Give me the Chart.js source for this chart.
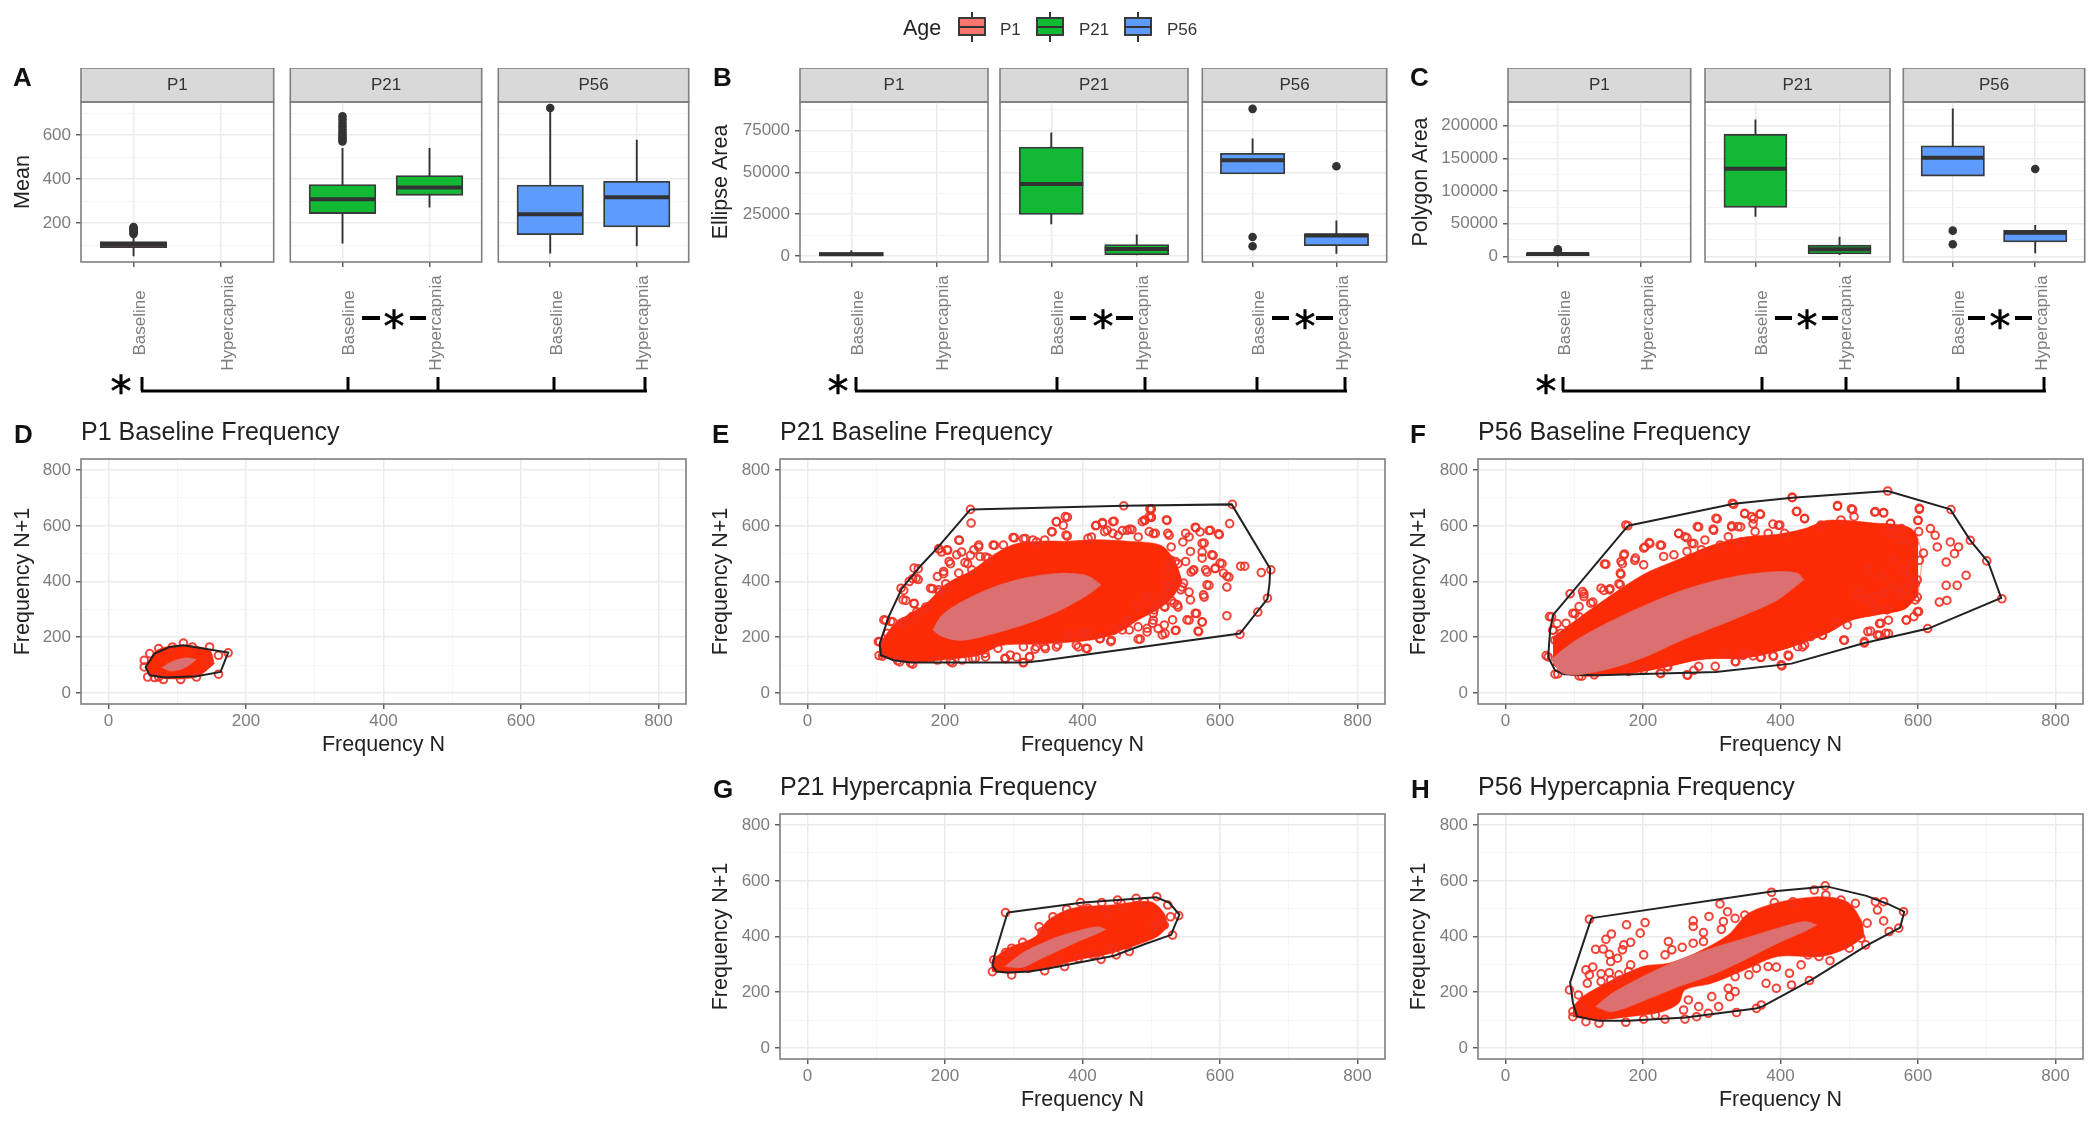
<!DOCTYPE html>
<html>
<head>
<meta charset="utf-8">
<title>Frequency panels</title>
<script src="https://cdn.jsdelivr.net/npm/chart.js@4"></script>
<style>
  html, body { margin: 0; padding: 0; background: #fff; overflow: hidden; width: 2100px; height: 1125px; }
  #fig { position: absolute; left: 0; top: 0; width: 2100px; height: 1125px; filter: blur(0.4px); }
  #fig canvas { position: absolute; }
  .txt { position: absolute; font-family: "Liberation Sans", sans-serif; white-space: nowrap; color: #222; }
  .lab { font-weight: bold; color: #111; }
  #marks { position: absolute; left: 0; top: 0; filter: blur(0.4px); }
</style>
</head>
<body>
<div id="fig"></div>
<svg id="marks" width="2100" height="1125"></svg>
<script>
// ========================
// Data: boxplots (order: P1 Baseline, P21 Baseline, P21 Hypercapnia, P56 Baseline, P56 Hypercapnia)
// ========================
const ages = ["P1", "P21", "P56"];
const ageColors = ["#F8766D", "#12B934", "#5E9BFF"];
const conditions = ["Baseline", "Hypercapnia"];
const boxAge = [0, 1, 1, 2, 2];
const boxCond = [1, 1, 2, 1, 2];

const meanQ1 = [88, 243, 326, 147, 182];
const meanMed = [103, 308, 361, 240, 317];
const meanQ3 = [116, 375, 416, 373, 390];
const meanLo = [49, 107, 271, 62, 95];
const meanHi = [145, 541, 541, 723, 579];
const meanOut = [[150, 157, 164, 170, 176, 182], [571, 580, 590, 600, 612, 625, 640, 655, 670, 685], [], [723], []];
const meanTicks = [200, 400, 600];
const meanMinor = [100, 300, 500, 700];

const ellQ1 = [200, 24900, 800, 49100, 6200];
const ellMed = [1000, 43100, 4200, 57300, 12200];
const ellQ3 = [2000, 65200, 6800, 61400, 13400];
const ellLo = [0, 19000, 400, 49100, 1400];
const ellHi = [3400, 73800, 12800, 70200, 21300];
const ellOut = [[], [], [], [88000, 11400, 5800], [53700]];
const ellTicks = [0, 25000, 50000, 75000];
const ellMinor = [12500, 37500, 62500, 87500];

const polyQ1 = [1000, 75000, 3600, 122900, 21900];
const polyMed = [3600, 134000, 10700, 151000, 36200];
const polyQ3 = [5500, 187000, 17300, 169300, 39800];
const polyLo = [0, 60700, 2000, 122900, 4600];
const polyHi = [7000, 209600, 30000, 226400, 48000];
const polyOut = [[10700, 9000], [], [], [39300, 18400], [133600]];
const polyTicks = [0, 50000, 100000, 150000, 200000];
const polyMinor = [25000, 75000, 125000, 175000, 225000];

// ========================
// Data: frequency panels
// ========================
const freqTicks = [0, 200, 400, 600, 800];
const freqMinor = [100, 300, 500, 700];

const hullD = [[89,165],[109,171],[174,145],[163,75],[128,60],[83,55],[60,63],[54,93],[67,141],[89,165]];
const ellUpD = [[78,91],[89,109],[102,121],[115,126],[128,120]];
const ellLoD = [[78,91],[89,79],[102,82],[115,96],[128,120]];
const coreUpD = [[54,87],[70,153],[109,171],[147,153],[154,105]];
const coreLoD = [[54,87],[60,66],[83,51],[128,57],[154,105]];
const ringsD = [[52,93],[57,57],[67,55],[80,48],[105,48],[128,57],[160,67],[174,144],[160,135],[144,111],[109,179],[93,165],[73,159],[60,141],[52,117],[147,165],[122,165],[73,57]];

const hullE = [[237,659],[460,672],[617,677],[673,446],[672,392],[669,338],[629,213],[340,115],[317,109],[151,109],[125,117],[107,135],[105,177],[118,273],[137,374],[163,452],[188,518],[237,659]];
const ellUpE = [[182,226],[196,280],[225,328],[273,382],[321,415],[369,430],[408,420],[427,388]];
const ellLoE = [[182,226],[196,202],[225,188],[273,214],[321,250],[369,298],[408,352],[427,388]];
const coreUpE = [[104,175],[128,250],[172,320],[201,390],[239,440],[273,500],[302,535],[340,545],[379,545],[417,550],[465,545],[514,530],[535,470],[545,400]];
const coreLoE = [[104,130],[152,108],[196,118],[249,135],[282,170],[331,175],[369,180],[413,190],[451,215],[480,260],[510,300],[530,340],[545,400]];
const ringsE = [[237,659],[238,610],[460,672],[500,660],[500,630],[490,620],[618,677],[614,608],[630,455],[636,455],[660,432],[674,442],[669,340],[655,290],[610,277],[629,210],
  [378,631],[362,614],[372,602],[356,578],[301,557],[317,554],[333,542],[378,563],[420,602],[429,608],[446,616],[436,584],[465,584],[472,586],[491,620],[500,631],[500,661],[523,620],[526,566],[546,542],[555,560],[565,593],[571,578],[586,584],[599,568],[577,538],[574,506],[590,494],[561,440],[581,434],[603,464],[593,446],[610,419],[613,416],[610,380],[577,344],[584,386],[566,285],[574,255],[555,261],[536,225],[568,222],[539,308],[520,308],[520,213],[510,231],[484,193],[494,219],[442,189],[426,195],[407,213],[394,165],[407,159],[362,165],[346,159],[333,165],[323,129],[314,108],[304,129],[288,123],[259,129],[240,123],[211,108],[153,103],[134,111],[109,132],[105,183],[114,261],[124,255],[140,255],[143,332],[140,368],[153,410],[161,407],[161,446],[195,506],[191,518],[221,548],[204,512],[224,506],[237,494],[249,524],[259,488],[272,530],[233,464],[208,464],[198,428],[201,392],[182,374],[192,362],[155,320],[172,308],[159,291],
  [529,476],[539,464],[536,416],[526,380],[516,344],[503,285],[503,261],[529,332],[558,434],[545,380],[555,362],[465,261],[446,225],[481,237],[413,560],[452,566],[481,560],[503,572],[529,524],
  [299,558],[314,553],[328,549],[345,549],[355,579],[362,615],[375,633],[376,567],[408,555],[419,600],[429,612],[444,615],[432,579],[444,573],[458,583],[469,588],[487,615],[497,633],[498,660],[522,621],[497,579],[506,573],[524,573],[550,573],[564,595],[584,583],[598,571],[574,537],[557,508],[574,484],[588,496],[600,466],[579,442],[593,448],[605,430],[562,442],[550,472],[535,472],[521,442],[581,388],[576,352],[557,334],[538,316],[519,310],[506,316],[564,286],[552,262],[574,254],[569,220],[535,224],[531,262],[516,208],[519,244],[494,232],[481,193],[468,226],[441,184],[425,194],[405,160],[391,172],[364,172],[345,166],[331,157],[314,166],[323,130],[314,109],[295,136],[287,124],[277,160],[258,142],[244,124],[225,118],[208,112],[189,118],[150,107],[131,116],[104,134],[103,184],[111,262],[121,256],[116,214],[136,250],[152,274],[155,322],[139,334],[136,376],[148,400],[158,412],[155,448],[189,418],[179,376],[191,370],[205,376],[198,436],[220,430],[206,472],[229,468],[217,496],[203,514],[220,549],[191,516],[242,514],[249,531],[270,531],[285,531],[263,484],[251,490],[239,442],[480,310],[494,346],[504,298],[502,250],[533,322],[543,370],[547,394],[523,388],[466,256],[458,226],[398,214],[379,208]];

const hullF = [[178,600],[332,679],[417,701],[556,725],[647,659],[676,548],[702,470],[721,341],[615,231],[522,179],[416,105],[306,75],[133,63],[85,67],[72,81],[62,129],[65,225],[69,279],[178,600]];
const ellUpF = [[66,119],[83,154],[107,196],[155,260],[204,316],[252,364],[300,400],[348,424],[396,436],[425,430],[434,406]];
const ellLoF = [[66,119],[83,71],[107,65],[155,89],[204,130],[252,184],[300,232],[348,280],[396,334],[425,388],[434,406]];
const coreUpF = [[69,200],[107,270],[165,370],[204,430],[252,480],[300,530],[348,560],[396,570],[435,590],[469,620],[536,610],[590,590],[605,500],[600,350]];
const coreLoF = [[69,100],[98,62],[180,70],[237,95],[285,120],[343,125],[372,135],[416,165],[469,215],[502,260],[540,280],[580,300],[600,350]];
const ringsF = [[178,600],[332,677],[417,701],[556,725],[648,658],[676,548],[700,474],[722,338],[614,231],[522,179],[402,97],[265,63],[226,69],[111,60],[72,67],[62,129],[67,273],[69,225],[146,462],[172,494],[170,464],[168,426],[210,536],[227,530],[203,524],[252,572],[281,596],[308,625],[303,584],[264,557],[274,536],[348,643],[371,641],[361,625],[329,596],[342,596],[397,602],[424,652],[435,625],[483,670],[505,658],[537,649],[550,646],[602,659],[600,620],[560,608],[576,590],[618,590],[625,566],[647,542],[659,524],[653,500],[628,524],[641,470],[670,422],[641,386],[657,386],[631,326],[642,332],[599,291],[583,261],[599,344],[596,392],[602,476],[573,356],[557,261],[544,249],[557,213],[544,207],[531,222],[493,189],[461,207],[432,165],[412,132],[390,132],[371,127],[345,135],[335,111],[274,81],[236,93],[114,356],[94,356],[143,368],[152,374],[75,249],[101,285],[72,189],[188,476],[165,392],[127,326],[107,273],
  [175,603],[330,681],[417,703],[483,673],[503,661],[423,651],[348,645],[358,633],[370,643],[306,627],[279,597],[252,573],[329,600],[338,597],[360,607],[389,606],[399,603],[302,588],[363,579],[261,561],[271,537],[290,549],[225,531],[209,540],[201,520],[173,499],[144,463],[168,472],[167,430],[189,484],[201,460],[230,490],[245,496],[264,508],[285,514],[312,531],[324,561],[343,543],[382,573],[406,573],[435,627],[459,603],[488,621],[507,633],[538,651],[550,648],[560,609],[602,663],[600,619],[601,579],[594,537],[608,502],[591,472],[579,442],[599,406],[582,370],[596,334],[601,292],[594,274],[583,262],[555,298],[538,304],[546,250],[553,214],[541,208],[527,220],[522,184],[492,190],[497,244],[481,250],[461,208],[444,202],[435,172],[425,166],[411,136],[401,101],[389,133],[372,128],[360,133],[334,113],[346,136],[319,142],[305,95],[281,95],[264,65],[235,95],[225,71],[201,83],[179,77],[129,65],[107,61],[76,68],[59,134],[64,274],[69,226],[98,286],[112,364],[114,346],[139,376],[151,370],[167,388],[81,214],[88,250],[107,310],[124,322],[536,346],[550,358],[565,382],[522,334],[526,442],[512,358],[565,478],[577,549],[560,573],[589,418],[546,418]];

const hullG = [[291,486],[401,522],[507,541],[526,522],[541,478],[534,438],[529,406],[491,373],[446,331],[346,283],[323,274],[291,271],[275,274],[269,295],[272,331],[291,486]];
const ellUpG = [[287,292],[312,340],[336,370],[365,400],[394,421],[422,435],[434,426]];
const ellLoG = [[287,292],[312,289],[336,316],[365,349],[394,382],[422,411],[434,426]];
const coreUpG = [[268,316],[292,358],[331,399],[350,459],[384,501],[442,513],[499,525],[519,483],[524,435]];
const coreLoG = [[268,274],[297,268],[345,286],[394,316],[442,340],[480,370],[509,400],[524,435]];
const ringsG = [[288,486],[313,379],[297,358],[288,342],[337,435],[357,471],[377,498],[397,522],[428,522],[451,531],[478,537],[508,543],[524,513],[540,475],[531,405],[512,471],[519,441],[504,435],[528,471],[271,316],[269,274],[297,262],[345,277],[374,292],[394,322],[427,318],[449,334],[468,346],[442,358],[415,334],[365,306],[321,286],[408,501],[434,489],[456,519],[490,525],[341,417]];

const hullH = [[125,466],[387,562],[467,580],[525,546],[557,516],[580,489],[574,432],[525,367],[445,244],[374,149],[364,141],[262,109],[178,97],[136,97],[104,113],[98,163],[94,235],[125,466]];
const ellUpH = [[131,148],[155,196],[204,262],[252,316],[300,358],[348,394],[396,430],[435,454],[453,442]];
const ellLoH = [[131,148],[155,130],[204,172],[252,220],[300,262],[348,316],[396,376],[435,418],[453,442]];
const coreUpH = [[98,148],[112,184],[146,232],[199,292],[237,304],[276,340],[324,406],[353,483],[401,525],[459,543],[497,525],[517,460],[522,400]];
const coreLoH = [[98,112],[131,100],[180,112],[228,130],[252,160],[261,208],[300,232],[348,280],[396,328],[459,328],[497,358],[522,400]];
const ringsH = [[122,462],[387,559],[465,582],[449,567],[312,517],[323,489],[296,472],[273,456],[273,436],[317,454],[314,426],[288,414],[203,450],[176,442],[196,412],[154,409],[146,390],[182,379],[172,370],[170,352],[131,354],[142,355],[237,382],[242,352],[257,361],[273,376],[288,382],[232,334],[201,334],[151,336],[163,322],[153,310],[182,298],[127,290],[117,280],[122,262],[139,266],[151,270],[165,262],[167,244],[153,244],[139,238],[179,274],[93,208],[106,190],[119,232],[326,184],[334,202],[324,214],[310,148],[336,127],[295,124],[281,148],[266,172],[259,136],[300,184],[394,214],[379,232],[416,226],[442,242],[413,268],[430,298],[394,290],[382,292],[354,262],[334,256],[365,286],[365,142],[372,154],[472,313],[456,328],[440,334],[500,358],[524,370],[558,418],[572,430],[550,456],[541,495],[538,525],[550,525],[579,489],[526,448],[509,519],[488,531],[466,549],[418,525],[391,522],[348,477],[334,465],[517,394],[98,112],[117,94],[136,88],[175,92],[201,103],[232,103],[261,103],[278,112],[98,130],[110,142],[218,118]];

// ========================
// Layout helpers
// ========================
const FONT = '"Liberation Sans", sans-serif';
const TICK_COLOR = "#7d7d7d";
const fig = document.getElementById("fig");

Chart.defaults.font.family = FONT;
Chart.defaults.animation = false;
Chart.defaults.responsive = false;
Chart.defaults.plugins.legend.display = false;
Chart.defaults.plugins.tooltip.enabled = false;

const panelFrame = {
  id: "panelFrame",
  beforeDraw(chart, args, opts) {
    if (!opts.strip) return;
    const a = chart.chartArea, ctx = chart.ctx;
    ctx.save();
    ctx.fillStyle = "#d9d9d9";
    ctx.strokeStyle = "#7f7f7f";
    ctx.lineWidth = 1.6;
    ctx.fillRect(a.left, a.top - opts.strip, a.right - a.left, opts.strip);
    ctx.strokeRect(a.left, a.top - opts.strip, a.right - a.left, opts.strip);
    ctx.restore();
  },
  afterDraw(chart, args, opts) {
    const a = chart.chartArea, ctx = chart.ctx;
    ctx.save();
    ctx.strokeStyle = "#7f7f7f";
    ctx.lineWidth = 1.6;
    ctx.strokeRect(a.left, a.top, a.right - a.left, a.bottom - a.top);
    if (opts.condLabels) {
      ctx.fillStyle = TICK_COLOR;
      ctx.font = "17px " + FONT;
      ctx.textAlign = "center";
      ctx.textBaseline = "middle";
      opts.condLabels.forEach((txt, i) => {
        ctx.save();
        ctx.translate(chart.scales.x.getPixelForValue(i + 1) + 7, a.bottom + opts.condOffset);
        ctx.rotate(-Math.PI / 2);
        ctx.fillText(txt, 0, 0);
        ctx.restore();
      });
    }
    ctx.restore();
  }
};

// plot rectangle and margins are in page pixels
function addChart(plot, ml, mt, mb, config) {
  const mr = 2;
  const c = document.createElement("canvas");
  c.width = ml + (plot.x1 - plot.x0) + mr;
  c.height = mt + (plot.y1 - plot.y0) + mb;
  c.style.left = (plot.x0 - ml) + "px";
  c.style.top = (plot.y0 - mt) + "px";
  fig.appendChild(c);
  config.options.layout = { padding: { right: mr } };
  config.options.scales.x.afterFit = s => { s.height = mb; };
  config.options.scales.y.afterFit = s => { s.width = ml; };
  config.plugins = [panelFrame];
  return new Chart(c, config);
}

function tickList(major, minor) {
  return major.map(v => ({ value: v, major: true }))
    .concat(minor.map(v => ({ value: v, major: false })))
    .sort((a, b) => a.value - b.value);
}

function gridOpts(tickLength, drawTicks) {
  return {
    offset: false,
    color: ctx => (ctx.tick && ctx.tick.major ? "#ebebeb" : "#f3f3f3"),
    lineWidth: ctx => (ctx.tick && ctx.tick.major ? 1.5 : 0.9),
    drawTicks: drawTicks,
    tickLength: tickLength,
    tickWidth: 1.4,
    tickColor: ctx => (ctx.tick && ctx.tick.major ? "#555" : "rgba(0,0,0,0)")
  };
}

function yScale(min, max, major, minor, title) {
  return {
    type: "linear", min: min, max: max,
    afterBuildTicks: s => { s.ticks = tickList(major, minor); },
    border: { display: false },
    grid: gridOpts(5, !!title),
    ticks: {
      display: !!title, autoSkip: false, padding: 5, color: TICK_COLOR, font: { size: 17 },
      callback: v => (major.includes(v) ? String(v) : "")
    },
    title: { display: !!title, text: title || "", color: "#222", font: { size: 21.5 }, padding: 0 }
  };
}

// ========================
// Boxplots
// ========================
function boxPanel(plot, ml, age, q1, med, q3, lo, hi, outs, yMin, yMax, major, minor, yTitle) {
  const whisk = [], meds = [], boxes = [], pts = [];
  boxAge.forEach((a, i) => {
    if (a !== age) return;
    const x = boxCond[i];
    boxes.push({ x: x, y: [q1[i], q3[i]] });
    whisk.push({ x: x, y: lo[i] }, { x: x, y: hi[i] }, { x: x, y: null });
    meds.push({ x: x - 0.375, y: med[i] }, { x: x + 0.375, y: med[i] }, { x: x, y: null });
    outs[i].forEach(v => pts.push({ x: x, y: v }));
  });
  const unit = (plot.x1 - plot.x0) / 2.2;
  const stripH = 34;
  addChart(plot, ml, stripH, 115, {
    type: "scatter",
    data: {
      datasets: [
        { type: "line", data: whisk, borderColor: "#333", borderWidth: 1.9, pointRadius: 0, order: 4 },
        { type: "bar", data: boxes, backgroundColor: ageColors[age], borderColor: "#3a3a3a", borderWidth: 1.8,
          borderSkipped: false, barThickness: unit * 0.75, grouped: false, order: 3 },
        { type: "line", data: meds, borderColor: "#333", borderWidth: 4, pointRadius: 0, order: 2 },
        { type: "scatter", data: pts, pointRadius: 4.3, backgroundColor: "#333", borderWidth: 0, order: 1 }
      ]
    },
    options: {
      scales: {
        x: {
          type: "linear", min: 0.4, max: 2.6, offset: false,
          afterBuildTicks: s => { s.ticks = [{ value: 1, major: true }, { value: 2, major: true }]; },
          border: { display: false },
          grid: gridOpts(5, true),
          ticks: { display: false }
        },
        y: yScale(yMin, yMax, major, minor, yTitle)
      },
      plugins: {
        title: {
          display: true, text: ages[age], fullSize: false, color: "#333",
          font: { size: 17, weight: "normal", lineHeight: 1.2 },
          padding: { top: 6.8, bottom: 6.8 }
        },
        panelFrame: { strip: stripH, condLabels: conditions, condOffset: 61 }
      }
    }
  });
}

const boxRows = [
  { cols: [[81, 276], [288, 484], [496, 691]], ml: 71, q1: meanQ1, med: meanMed, q3: meanQ3, lo: meanLo, hi: meanHi, outs: meanOut, min: 23, max: 750, major: meanTicks, minor: meanMinor, title: "Mean" },
  { cols: [[800, 988], [1000, 1188], [1200, 1389]], ml: 92, q1: ellQ1, med: ellMed, q3: ellQ3, lo: ellLo, hi: ellHi, outs: ellOut, min: -3590, max: 92100, major: ellTicks, minor: ellMinor, title: "Ellipse Area" },
  { cols: [[1508, 1693], [1705, 1890], [1901, 2087]], ml: 100, q1: polyQ1, med: polyMed, q3: polyQ3, lo: polyLo, hi: polyHi, outs: polyOut, min: -8730, max: 236300, major: polyTicks, minor: polyMinor, title: "Polygon Area" }
];
boxRows.forEach(r => {
  r.cols.forEach((c, age) => {
    boxPanel({ x0: c[0], x1: c[1], y0: 102, y1: 262 }, age === 0 ? r.ml : 2, age, r.q1, r.med, r.q3, r.lo, r.hi, r.outs,
      r.min, r.max, r.major, r.minor, age === 0 ? r.title : null);
  });
});

// ========================
// Frequency panels
// ========================
const toPts = list => list.map(p => ({ x: p[0], y: p[1] }));

function freqPanel(plot, ml, title, hull, ellUp, ellLo, coreUp, coreLo, rings) {
  const axisX = {
    type: "linear", min: -40, max: 840,
    afterBuildTicks: s => { s.ticks = tickList(freqTicks, freqMinor); },
    border: { display: false },
    grid: gridOpts(5, true),
    ticks: { autoSkip: false, maxRotation: 0, minRotation: 0, padding: 2, color: TICK_COLOR, font: { size: 17 },
      callback: v => (freqTicks.includes(v) ? String(v) : "") },
    title: { display: true, text: "Frequency N", color: "#222", font: { size: 21.5 }, padding: 0 }
  };
  const fillLine = (data, color, order, fill) => ({
    type: "line", data: toPts(data), backgroundColor: color, borderColor: color, borderWidth: 0.5,
    pointRadius: 0, tension: 0.3, fill: fill, order: order
  });
  addChart(plot, ml, 41, 54, {
    type: "scatter",
    data: {
      datasets: [
        fillLine(coreUp, "#fb2b05", 4, "+1"),
        fillLine(coreLo, "#fb2b05", 4, false),
        { type: "scatter", data: toPts(rings), pointRadius: 3.8, backgroundColor: "rgba(0,0,0,0)",
          borderColor: "rgba(240,48,34,0.9)", borderWidth: 2, order: 3 },
        { type: "line", data: toPts(hull), borderColor: "#222", borderWidth: 2, pointRadius: 0, fill: false, order: 2 },
        fillLine(ellUp, "#dc6f70", 1, "+1"),
        fillLine(ellLo, "#dc6f70", 1, false)
      ]
    },
    options: {
      scales: { x: axisX, y: yScale(-40, 840, freqTicks, freqMinor, "Frequency N+1") },
      plugins: {
        title: {
          display: true, text: title, fullSize: false, align: "start", color: "#222",
          font: { size: 25, weight: "normal", lineHeight: 1.2 },
          padding: { top: 0, bottom: 11 }
        },
        panelFrame: {}
      }
    }
  });
}

freqPanel({ x0: 81, x1: 690, y0: 459, y1: 704 }, 71, "P1 Baseline Frequency", hullD, ellUpD, ellLoD, coreUpD, coreLoD, ringsD);
freqPanel({ x0: 780, x1: 1389, y0: 459, y1: 704 }, 72, "P21 Baseline Frequency", hullE, ellUpE, ellLoE, coreUpE, coreLoE, ringsE);
freqPanel({ x0: 1478, x1: 2087, y0: 459, y1: 704 }, 72, "P56 Baseline Frequency", hullF, ellUpF, ellLoF, coreUpF, coreLoF, ringsF);
freqPanel({ x0: 780, x1: 1389, y0: 814, y1: 1059 }, 72, "P21 Hypercapnia Frequency", hullG, ellUpG, ellLoG, coreUpG, coreLoG, ringsG);
freqPanel({ x0: 1478, x1: 2087, y0: 814, y1: 1059 }, 72, "P56 Hypercapnia Frequency", hullH, ellUpH, ellLoH, coreUpH, coreLoH, ringsH);

// ========================
// Panel letters and legend
// ========================
function addText(txt, x, yCenter, size, cls, color) {
  const d = document.createElement("div");
  d.className = "txt " + (cls || "");
  d.textContent = txt;
  d.style.left = x + "px";
  d.style.fontSize = size + "px";
  d.style.lineHeight = size + "px";
  d.style.top = (yCenter - size / 2) + "px";
  if (color) d.style.color = color;
  fig.appendChild(d);
}

const letters = [["A", 13, 77], ["B", 713, 77], ["C", 1410, 77], ["D", 14, 434], ["E", 712, 434], ["F", 1410, 434], ["G", 713, 789], ["H", 1411, 789]];
letters.forEach(l => addText(l[0], l[1], l[2], 26, "lab"));

addText("Age", 903, 29, 21.5);
const keyX = [958, 1036, 1124];
const keyLabelX = [1000, 1079, 1167];
ages.forEach((a, i) => {
  const line = document.createElement("div");
  line.style.cssText = `position:absolute;left:${keyX[i] + 13}px;top:12px;width:2px;height:30px;background:#333`;
  fig.appendChild(line);
  const box = document.createElement("div");
  box.style.cssText = `position:absolute;box-sizing:border-box;left:${keyX[i]}px;top:17px;width:28px;height:19px;background:${ageColors[i]};border:2px solid #3a3a3a`;
  fig.appendChild(box);
  const med = document.createElement("div");
  med.style.cssText = `position:absolute;left:${keyX[i]}px;top:25.5px;width:28px;height:2px;background:#333`;
  fig.appendChild(med);
  addText(a, keyLabelX[i], 29, 17, "", "#333");
});

// ========================
// Significance brackets
// ========================
const brackets = [
  { x0: 142, x1: 646, ticks: [142, 348, 438, 554, 645], star: 121 },
  { x0: 856, x1: 1346, ticks: [856, 1057, 1145, 1257, 1345], star: 838 },
  { x0: 1563, x1: 2045, ticks: [1563, 1762, 1846, 1958, 2044], star: 1546 }
];
const pairMarks = [[362, 380, 394, 410, 426], [1070, 1086, 1103, 1116, 1133], [1272, 1289, 1305, 1316, 1333], [1775, 1792, 1807, 1822, 1838], [1968, 1985, 2000, 2015, 2032]];
const svgNS = "http://www.w3.org/2000/svg";
const marks = document.getElementById("marks");

function svgLine(x1, y1, x2, y2, w) {
  const l = document.createElementNS(svgNS, "line");
  l.setAttribute("x1", x1); l.setAttribute("y1", y1); l.setAttribute("x2", x2); l.setAttribute("y2", y2);
  l.setAttribute("stroke", "#000"); l.setAttribute("stroke-width", w);
  marks.appendChild(l);
}
function svgStar(x, yc) {
  const t = document.createElementNS(svgNS, "text");
  t.textContent = "*";
  t.setAttribute("font-family", "DejaVu Sans");
  t.setAttribute("font-size", "42");
  t.setAttribute("text-anchor", "middle");
  t.setAttribute("stroke", "#000");
  t.setAttribute("stroke-width", "0.6");
  t.setAttribute("x", x);
  t.setAttribute("y", yc + 23);
  marks.appendChild(t);
}
brackets.forEach(b => {
  svgLine(b.x0 - 1, 391, b.x1 + 1, 391, 3);
  b.ticks.forEach(x => svgLine(x, 377, x, 391, 3));
  svgStar(b.star, 383);
});
pairMarks.forEach(p => {
  svgLine(p[0], 318, p[1], 318, 4);
  svgLine(p[3], 318, p[4], 318, 4);
  svgStar(p[2], 318);
});
</script>
</body>
</html>
